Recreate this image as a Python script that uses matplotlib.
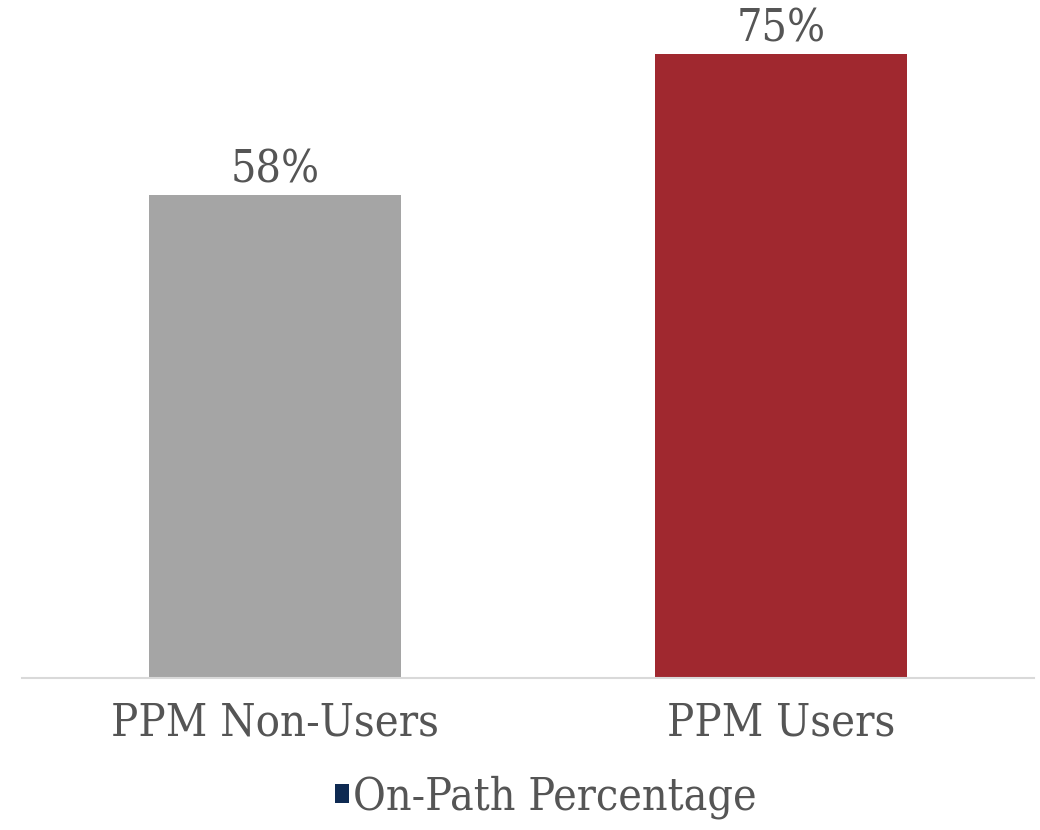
import matplotlib
matplotlib.use("Agg")
import matplotlib.pyplot as plt
from matplotlib.patches import Patch
import numpy as np

# Data
categories = ["PPM Non-Users", "PPM Users"]
on_path = [0.58, 0.75]
series_name = "On-Path Percentage"

bar_colors = ["#A5A5A5", "#A0282F"]
legend_color = "#0E2A52"
text_color = "#555555"

plt.rcParams["font.family"] = ["DejaVu Serif"]
plt.rcParams["font.stretch"] = "condensed"

fig = plt.figure(figsize=(10.4, 8.3), dpi=100)
ax = fig.add_axes([22 / 1040, 152 / 830, 1012 / 1040, 666 / 830])

x = np.arange(len(categories))
bars = ax.bar(x, on_path, width=0.498, color=bar_colors)

for rect, v in zip(bars, on_path):
    ax.text(rect.get_x() + rect.get_width() / 2, v + 0.004, f"{v:.0%}",
            ha="center", va="bottom", fontsize=32, color=text_color)

ax.set_xlim(-0.5, 1.5)
ax.set_ylim(0, 0.80)
ax.set_yticks([])
ax.set_xticks(x)
ax.set_xticklabels(categories, fontsize=32.5, color=text_color)
ax.tick_params(axis="x", length=0, pad=17)

for side in ["top", "right", "left"]:
    ax.spines[side].set_visible(False)
ax.spines["bottom"].set_color("#D9D9D9")
ax.spines["bottom"].set_linewidth(1.5)

handle = Patch(facecolor=legend_color, label=series_name)
fig.legend(handles=[handle], loc="center", bbox_to_anchor=(0.525, 33 / 830),
           frameon=False, fontsize=32, labelcolor=text_color,
           handlelength=0.3, handleheight=0.3, handletextpad=0.1)

fig.savefig("out.png", dpi=100)
